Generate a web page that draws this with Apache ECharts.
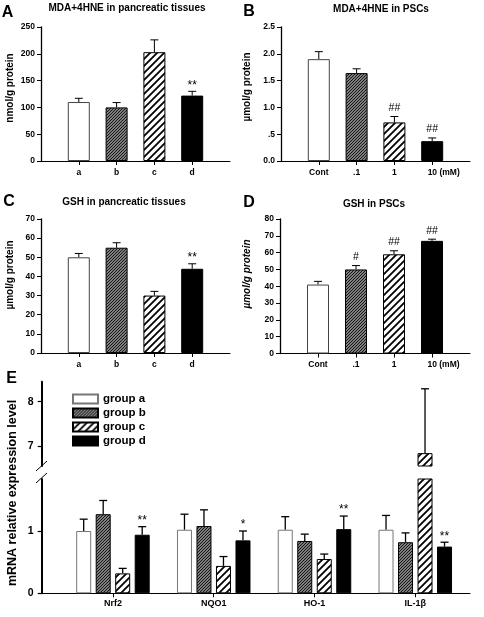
<!DOCTYPE html>
<html><head><meta charset="utf-8">
<script src="https://cdn.jsdelivr.net/npm/echarts@6/dist/echarts.min.js"></script>
<style>html,body{margin:0;padding:0;background:#fff}#c{width:484px;height:617px}</style>
</head><body><div id="c"></div>
<script>
// ---------- data ----------
const catsTissue = ['a', 'b', 'c', 'd'];
const catsPSC = ['Cont', '.1', '1', '10 (mM)'];

const mdaTissue = [110, 100, 203, 122];
const mdaTissueErr = [7, 9, 23, 8];
const mdaTissueSig = ['', '', '', '**'];

const mdaPSC = [1.90, 1.64, 0.72, 0.37];
const mdaPSCErr = [0.14, 0.08, 0.11, 0.06];
const mdaPSCSig = ['', '', '##', '##'];

const gshTissue = [50, 55, 30, 44];
const gshTissueErr = [2, 2.6, 2.2, 2.6];
const gshTissueSig = ['', '', '', '**'];

const gshPSC = [41, 50, 59, 67];
const gshPSCErr = [1.9, 2.3, 2.1, 1.0];
const gshPSCSig = ['', '#', '##', '##'];

const genes = ['Nrf2', 'NQO1', 'HO-1', 'IL-1β'];
const groupNames = ['group a', 'group b', 'group c', 'group d'];
const mrnaA = [1.00, 1.02, 1.02, 1.02];
const mrnaAErr = [0.19, 0.25, 0.21, 0.23];
const mrnaB = [1.27, 1.08, 0.84, 0.82];
const mrnaBErr = [0.22, 0.26, 0.11, 0.15];
const mrnaC = [0.32, 0.44, 0.55, 6.84];
const mrnaCErr = [0.08, 0.15, 0.08, 1.45];
const mrnaD = [0.94, 0.85, 1.03, 0.75];
const mrnaDErr = [0.13, 0.15, 0.21, 0.07];
const mrnaSig = [['', '', '', ''], ['', '', '', ''], ['', '', '', ''], ['**', '*', '**', '**']];

const ticksEUpper = [7, 8];
const ticksELower = [0, 1];

// ---------- styling ----------
const FONT = 'Liberation Sans, Arial, sans-serif';
function hatch(size, bg, fg, lw) {
  const c = document.createElement('canvas');
  c.width = c.height = size;
  const g = c.getContext('2d');
  g.fillStyle = bg; g.fillRect(0, 0, size, size);
  g.strokeStyle = fg; g.lineWidth = lw;
  g.beginPath();
  g.moveTo(0, size); g.lineTo(size, 0);
  g.moveTo(-size / 2, size / 2); g.lineTo(size / 2, -size / 2);
  g.moveTo(size / 2, size * 1.5); g.lineTo(size * 1.5, size / 2);
  g.stroke();
  return c;
}
const patB = { image: hatch(3, '#b0b0b0', '#111', 1.2), repeat: 'repeat' };
const patC = { image: hatch(7, '#fff', '#000', 1.8), repeat: 'repeat' };
const stylesAD = [
  { color: '#fff', borderColor: '#444', borderWidth: 1 },
  { color: patB, borderColor: '#000', borderWidth: 1 },
  { color: patC, borderColor: '#000', borderWidth: 1 },
  { color: '#000', borderColor: '#000', borderWidth: 1 }
];
const stylesE = [
  { color: '#fff', borderColor: '#777', borderWidth: 1 },
  { color: patB, borderColor: '#000', borderWidth: 1 },
  { color: patC, borderColor: '#000', borderWidth: 1 },
  { color: '#000', borderColor: '#000', borderWidth: 1 }
];

const grids = [
  { left: 41, right: 254, top: 27, bottom: 456 },
  { left: 281, right: 14, top: 27, bottom: 456 },
  { left: 41, right: 254, top: 219, bottom: 264 },
  { left: 280, right: 14, top: 219, bottom: 263.5 },
  { left: 41.7, right: 14, top: 381.7, bottom: 151 },
  { left: 41.7, right: 14, top: 479, bottom: 23.7 }
];

const xAxes = [], yAxes = [], series = [];

function line(x1, y1, x2, y2, w) {
  return { type: 'line', shape: { x1, y1, x2, y2 }, style: { stroke: '#000', lineWidth: w || 1 } };
}
function sigText(x, y, s) {
  const isStar = s.indexOf('*') >= 0;
  return {
    type: 'text', x: x, y: y + (isStar ? 2 : -1),
    style: { text: s, textAlign: 'center', textVerticalAlign: 'bottom',
      font: (isStar ? '12px ' : '10.5px ') + FONT, fill: '#000' }
  };
}

function addPanel(gi, cats, vals, errs, sigs, yMax, yInt, yFmt) {
  const idx = cats.map((c, i) => i + 1);
  xAxes.push({
    gridIndex: gi, type: 'value', min: 0, max: 5,
    axisLine: { show: true, onZero: false, lineStyle: { color: '#000', width: 1 } },
    axisTick: { show: true, customValues: idx, length: 4, lineStyle: { color: '#000' } },
    axisLabel: {
      customValues: idx, margin: 7,
      formatter: v => {
        const t = cats[v - 1];
        return t === '10 (mM)' ? '{sp| }10 (mM)' : t;
      },
      color: '#000', fontFamily: FONT, fontWeight: 'bold', fontSize: 8.5,
      rich: { sp: { width: 23 } }
    },
    splitLine: { show: false }
  });
  yAxes.push({
    gridIndex: gi, type: 'value', min: 0, max: yMax, interval: yInt,
    axisLine: { show: true, onZero: false, lineStyle: { color: '#000', width: 1.3 } },
    axisTick: { show: true, length: 4, lineStyle: { color: '#000' } },
    axisLabel: { margin: 6, color: '#000', fontFamily: FONT, fontWeight: 'bold', fontSize: 8.5, formatter: yFmt },
    splitLine: { show: false }
  });
  series.push({
    type: 'bar', xAxisIndex: gi, yAxisIndex: gi, barWidth: 22, silent: true,
    data: vals.map((v, i) => ({ value: [i + 1, v], itemStyle: stylesAD[i] }))
  });
  series.push({
    type: 'custom', xAxisIndex: gi, yAxisIndex: gi, silent: true,
    data: vals.map((v, i) => [i + 1, v, errs[i]]),
    encode: { x: 0, y: 1 },
    renderItem: (params, api) => {
      const x = api.value(0), v = api.value(1), e = api.value(2);
      const p0 = api.coord([x, v]), p1 = api.coord([x, v + e]);
      const ch = [line(p0[0], p0[1], p1[0], p1[1]), line(p1[0] - 4, p1[1], p1[0] + 4, p1[1])];
      const s = sigs[params.dataIndex];
      if (s) ch.push(sigText(p1[0], p1[1] - 2, s));
      return { type: 'group', children: ch };
    }
  });
}

addPanel(0, catsTissue, mdaTissue, mdaTissueErr, mdaTissueSig, 250, 50, null);
addPanel(1, catsPSC, mdaPSC, mdaPSCErr, mdaPSCSig, 2.5, 0.5,
  v => v === 0 ? '0.0' : (v < 1 ? String(v).replace(/^0/, '') : v.toFixed(1)));
addPanel(2, catsTissue, gshTissue, gshTissueErr, gshTissueSig, 70, 10, null);
addPanel(3, catsPSC, gshPSC, gshPSCErr, gshPSCSig, 80, 10, null);

// ---------- panel E (broken axis: two grids) ----------
const eMin = -0.707, eMax = 3.543;
const upperMin = 6.55, upperMax = 8.45, lowerMax = 1.835;
const geneIdx = genes.map((g, i) => i);
const mrnaVals = [mrnaA, mrnaB, mrnaC, mrnaD];
const mrnaErrs = [mrnaAErr, mrnaBErr, mrnaCErr, mrnaDErr];

[4, 5].forEach(gi => {
  const lower = gi === 5;
  xAxes.push({
    gridIndex: gi, type: 'value', min: eMin, max: eMax, show: lower,
    axisLine: { show: true, onZero: false, lineStyle: { color: '#000', width: 1 } },
    axisTick: { show: true, customValues: geneIdx, length: 4, lineStyle: { color: '#000' } },
    axisLabel: { customValues: geneIdx, margin: 6, formatter: v => genes[v],
      color: '#000', fontFamily: FONT, fontSize: 9, fontWeight: 'bold' },
    splitLine: { show: false }
  });
  yAxes.push({
    gridIndex: gi, type: 'value', min: lower ? 0 : upperMin, max: lower ? lowerMax : upperMax,
    axisLine: { show: true, onZero: false, lineStyle: { color: '#000', width: 2 } },
    axisTick: { show: true, customValues: lower ? ticksELower : ticksEUpper, length: 4, lineStyle: { color: '#000', width: 1.2 } },
    axisLabel: { customValues: lower ? ticksELower : ticksEUpper, margin: 8,
      color: '#000', fontFamily: FONT, fontSize: 10.5, fontWeight: 'bold' },
    splitLine: { show: false }
  });
  groupNames.forEach((name, k) => {
    series.push({
      type: 'bar', name: name, xAxisIndex: gi, yAxisIndex: gi, barWidth: 15, barGap: '30%', silent: true,
      itemStyle: stylesE[k],
      data: mrnaVals[k].map((v, i) => [i, lower ? v : (v >= upperMin ? v : '-')])
    });
  });
  const rows = [], rowSig = [];
  mrnaVals.forEach((vals, k) => vals.forEach((v, i) => {
    const inRange = lower ? v <= lowerMax : v >= upperMin;
    if (inRange) { rows.push([i, k, v, mrnaErrs[k][i]]); rowSig.push(mrnaSig[k][i]); }
  }));
  series.push({
    type: 'custom', xAxisIndex: gi, yAxisIndex: gi, silent: true, data: rows,
    encode: { x: 0, y: 2 },
    renderItem: (params, api) => {
      const i = api.value(0), k = api.value(1), v = api.value(2), e = api.value(3);
      const p0 = api.coord([i, v]), p1 = api.coord([i, v + e]);
      const x = p0[0] + (k - 1.5) * 19.5;
      const ch = [line(x, p0[1], x, p1[1], 1.3), line(x - 4, p1[1], x + 4, p1[1], 1.3)];
      const s = rowSig[params.dataIndex];
      if (s) ch.push(sigText(x, p1[1] - 2, s));
      return { type: 'group', children: ch };
    }
  });
});

// ---------- texts ----------
function txt(t, x, y, font, extra) {
  return Object.assign({ type: 'text', x, y, style: { text: t, font: font, fill: '#000', textAlign: 'center', textVerticalAlign: 'middle' } }, extra || {});
}
const graphic = [
  txt('A', 7.5, 12.5, 'bold 16px ' + FONT),
  txt('B', 249, 11.5, 'bold 16px ' + FONT),
  txt('C', 9, 201.5, 'bold 16px ' + FONT),
  txt('D', 249, 202.5, 'bold 16px ' + FONT),
  txt('E', 11.5, 379, 'bold 16px ' + FONT),
  txt('MDA+4HNE in pancreatic tissues', 127, 8.5, 'bold 10px ' + FONT),
  txt('MDA+4HNE in PSCs', 381, 9, 'bold 10px ' + FONT),
  txt('GSH in pancreatic tissues', 124, 202, 'bold 10px ' + FONT),
  txt('GSH in PSCs', 374, 204, 'bold 10px ' + FONT),
  txt('nmol/g protein', 10, 88, 'bold 10px ' + FONT, { rotation: Math.PI / 2 }),
  txt('µmol/g protein', 247.5, 87, 'bold 10px ' + FONT, { rotation: Math.PI / 2 }),
  txt('µmol/g protein', 10, 275, 'bold 10px ' + FONT, { rotation: Math.PI / 2 }),
  txt('µmol/g protein', 247.5, 274, 'italic bold 10px ' + FONT, { rotation: Math.PI / 2 }),
  txt('mRNA relative expression level', 13, 493, 'bold 12.5px ' + FONT, { rotation: Math.PI / 2 }),
  { type: 'line', shape: { x1: 36, y1: 471, x2: 47, y2: 461 }, style: { stroke: '#000', lineWidth: 1 } },
  { type: 'line', shape: { x1: 36, y1: 483, x2: 47, y2: 473 }, style: { stroke: '#000', lineWidth: 1 } }
];

const chart = echarts.init(document.getElementById('c'), null, { renderer: 'canvas' });
chart.setOption({
  animation: false,
  backgroundColor: '#fff',
  grid: grids,
  xAxis: xAxes,
  yAxis: yAxes,
  legend: {
    data: groupNames, orient: 'vertical', left: 72, top: 392.5, padding: 0,
    itemWidth: 25, itemHeight: 9, itemGap: 1, icon: 'rect',
    textStyle: { color: '#000', fontFamily: FONT, fontWeight: 'bold', fontSize: 11.5, lineHeight: 13 },
    selectedMode: false
  },
  graphic: graphic,
  series: series
});
</script></body></html>
